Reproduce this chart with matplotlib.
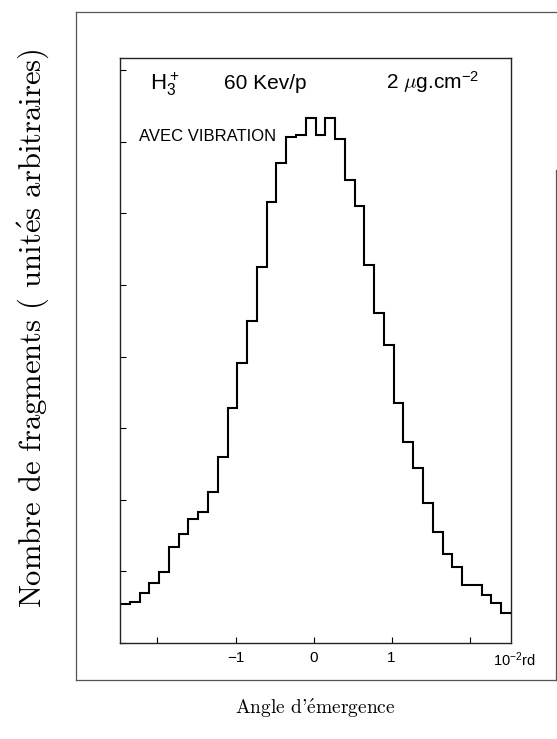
import numpy as np
import matplotlib.pyplot as plt
from matplotlib.lines import Line2D

# histogram of fragment angles, 40 bins (arbitrary units, 100 per tick)
counts = [54, 57, 70, 84, 99, 134, 152, 173, 183, 211,
          260, 328, 391, 450, 525, 616, 670, 707, 710, 733,
          710, 733, 704, 647, 610, 528, 461, 416, 335, 281,
          244, 196, 155, 124, 106, 81, 81, 67, 56, 42]
x_lo, x_hi = -2.48, 2.53
xticks = [-2, -1, 0, 1, 2]
xtick_labels = ['', '\u22121', '0', '1', '']

plt.rcParams['mathtext.fontset'] = 'cm'

W, H = 557, 739
fig = plt.figure(figsize=(W / 100, H / 100), dpi=100)

def fx(px):
    return px / W

def fy(py):
    return 1 - py / H

ax = fig.add_axes([fx(120), fy(643), fx(511) - fx(120), fy(58) - fy(643)])

edges = np.linspace(x_lo, x_hi, len(counts) + 1)
ax.stairs(counts, edges, color='black', linewidth=1.5, baseline=None)

ax.set_xlim(x_lo, x_hi)
ax.set_ylim(0, 817)
ax.set_xticks(xticks)
ax.set_xticklabels(xtick_labels, fontfamily='Liberation Sans', fontsize=11)
ax.set_yticks(np.arange(0, 801, 100))
ax.set_yticklabels([])
ax.tick_params(direction='in', length=4, width=0.8, top=False, right=False,
               pad=6)
for s in ax.spines.values():
    s.set_linewidth(1.0)
    s.set_color('#222222')

# labels inside the plot (sans text, so use the regular font in math)
sans = 'Liberation Sans'
ax.text(fx(150), fy(90), r'$\mathregular{H_3^+}$', transform=fig.transFigure,
        fontsize=16, fontfamily=sans, va='baseline')
ax.text(fx(224), fy(89), '60 Kev/p', transform=fig.transFigure,
        fontsize=15, fontfamily=sans, va='baseline')
ax.text(fx(386), fy(89), r'2 $\mu$g.cm$\mathregular{^{-2}}$', transform=fig.transFigure,
        fontsize=15, fontfamily=sans, va='baseline')
ax.text(fx(139), fy(141), 'AVEC VIBRATION', transform=fig.transFigure,
        fontsize=12, fontfamily=sans, va='baseline')

# unit at the end of the x axis
fig.text(fx(493), fy(666), r'10$\mathregular{^{-2}}$rd', fontsize=10.5,
         fontfamily=sans, va='baseline')

# axis titles, computer modern look
serif = ['cmr10', 'DejaVu Serif']
fig.text(fx(315), fy(708), "Angle d'$\\mathrm{\\acute{e}}$mergence", fontsize=14,
         fontfamily=serif, ha='center', va='center')
fig.text(fx(33), fy(328), 'Nombre de fragments ( unit$\\mathrm{\\acute{e}}$s arbitraires)',
         fontsize=22, fontfamily=serif, rotation=90, ha='center', va='center')

# outer frame of the scanned figure
frame = dict(color='#555555', linewidth=0.9, transform=fig.transFigure)
fig.add_artist(Line2D([fx(76), fx(557)], [fy(12), fy(12)], **frame))
fig.add_artist(Line2D([fx(76), fx(76)], [fy(12), fy(680)], **frame))
fig.add_artist(Line2D([fx(76), fx(557)], [fy(680), fy(680)], **frame))
fig.add_artist(Line2D([fx(556), fx(556)], [fy(170), fy(680)], **frame))

plt.savefig('out.png', dpi=100)
